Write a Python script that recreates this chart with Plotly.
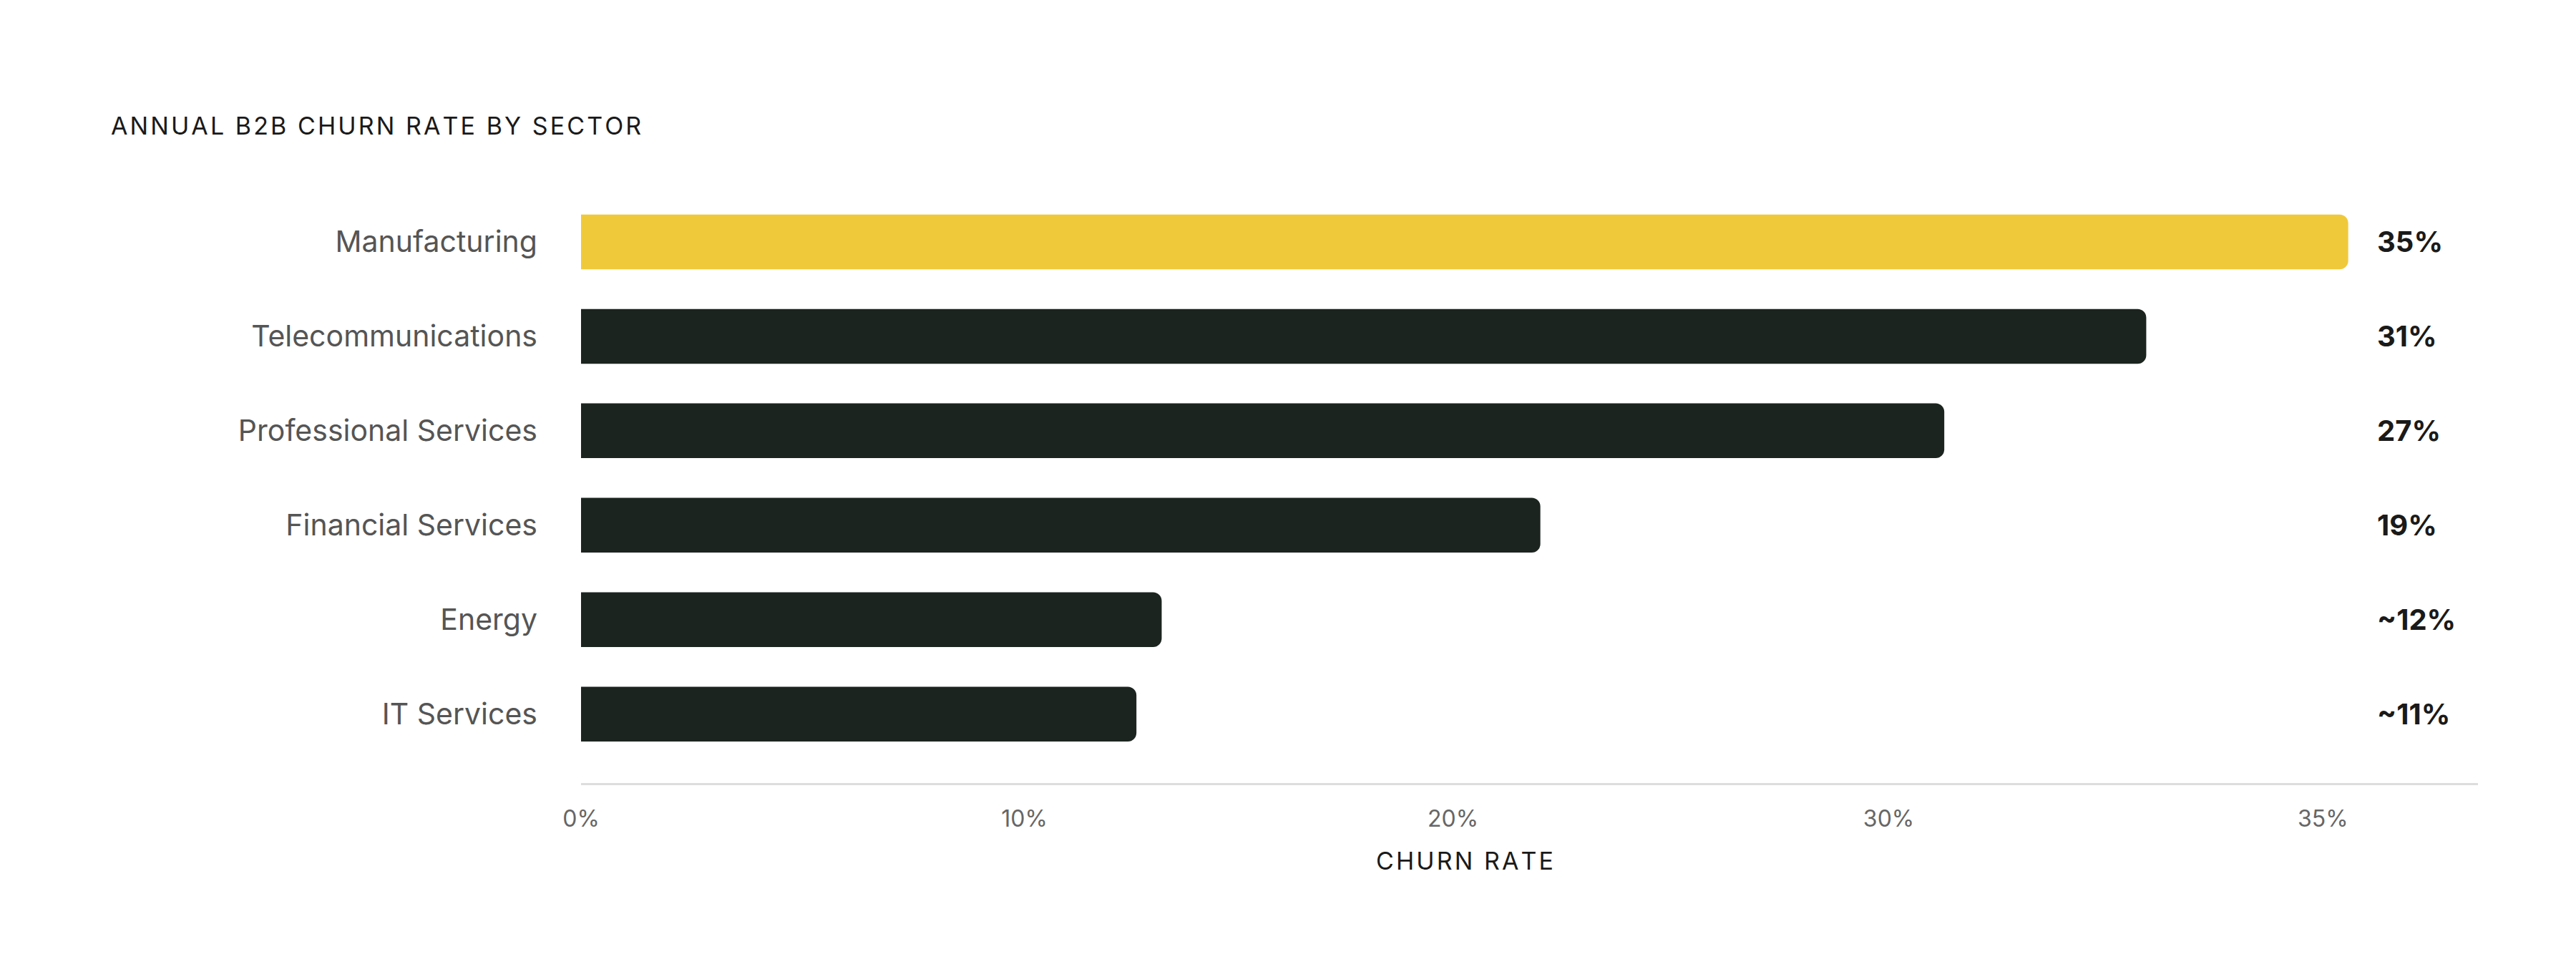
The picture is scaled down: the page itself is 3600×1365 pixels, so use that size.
import plotly.graph_objects as go

sectors = ["Manufacturing", "Telecommunications", "Professional Services",
           "Financial Services", "Energy", "IT Services"]
churn = [35, 31, 27, 19, 11.5, 11]
value_labels = ["35%", "31%", "27%", "19%", "~12%", "~11%"]
colors = ["#F0C93A", "#1C2420", "#1C2420", "#1C2420", "#1C2420", "#1C2420"]

# tick labels as drawn in the source chart (positions in data units)
tick_vals = [0, 8.78, 17.27, 25.9, 34.5]
tick_text = ["0%", "10%", "20%", "30%", "35%"]


def spaced(s):
    return "\u200a".join(s)


fig = go.Figure(go.Bar(
    x=churn, y=list(range(len(sectors))), orientation="h",
    marker=dict(color=colors, line=dict(width=0)),
    width=0.58, hoverinfo="skip",
))

for i, lab in enumerate(value_labels):
    fig.add_annotation(x=35.55, y=i, xref="x", yref="y", text=f"<b>{lab}</b>",
                       showarrow=False, xanchor="left",
                       font=dict(size=40, color="#1a1a1a"))

fig.add_annotation(x=145, y=168, xref="paper", yref="paper", text=spaced("ANNUAL B2B CHURN RATE BY SECTOR"),
                   showarrow=False, xanchor="left", yanchor="middle",
                   font=dict(size=34, color="#1a1a1a"))
fig.add_annotation(x=0.466, y=-0.132, xref="paper", yref="paper", text=spaced("CHURN RATE"),
                   showarrow=False, xanchor="center", yanchor="middle",
                   font=dict(size=34, color="#1a1a1a"))
# title position in pixels -> convert
fig.layout.annotations[-2].update(x=(145 - 804) / (3455 - 804), y=1 + (264 - 168) / (1086 - 264))

fig.update_layout(
    width=3600, height=1365,
    margin=dict(l=804, r=145, t=264, b=279),
    paper_bgcolor="white", plot_bgcolor="white",
    font=dict(family="Inter, Roboto, sans-serif"),
    barcornerradius=12,
    showlegend=False,
    xaxis=dict(range=[0, 37.57], tickvals=tick_vals, ticktext=tick_text,
               showgrid=False, zeroline=False, showline=True, linecolor="#dddddd",
               linewidth=3, ticks="", tickfont=dict(size=32, color="#666666"),
               ticklabelstandoff=20),
    yaxis=dict(range=[5.73, -0.5], tickvals=list(range(len(sectors))), ticktext=sectors,
               showgrid=False, zeroline=False, ticks="",
               tickfont=dict(size=41, color="#555555"), ticklabelstandoff=60),
)

fig.write_html("out.html")
